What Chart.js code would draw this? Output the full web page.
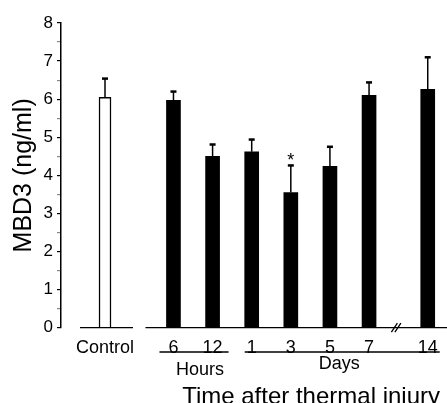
<!DOCTYPE html>
<html>
<head>
<meta charset="utf-8">
<script src="https://cdn.jsdelivr.net/npm/chart.js@4.4.1/dist/chart.umd.min.js"></script>
<style>
  html, body { margin: 0; padding: 0; background: #fff; }
</style>
</head>
<body>
<canvas id="myChart" width="447" height="403"></canvas>
<script>
// values
const categories = ['Control', '6', '12', '1', '3', '5', '7', '14'];
const meanValues = [6.05, 5.97, 4.50, 4.62, 3.55, 4.24, 6.10, 6.26];
const semValues = [0.49, 0.23, 0.31, 0.32, 0.71, 0.51, 0.34, 0.84];
const significant = [false, false, false, false, true, false, false, false];
const groups = [
    { text: 'Hours', from: 1, to: 2 },
    { text: 'Days', from: 3, to: 7 }
];

// layout: empty category slots between bars (control gap, axis break)
const slotGaps = [4, 7, 4, 4, 4, 4, 4, 6];
const totalSlots = 39;
const FONT = '"Liberation Sans", Arial, sans-serif';

const slots = [];
let pos = 0;
slotGaps.forEach(g => { pos += g; slots.push(pos); });

const labels = new Array(totalSlots).fill('');
const controlData = new Array(totalSlots).fill(null);
const injuryData = new Array(totalSlots).fill(null);
slots.forEach((s, i) => {
    labels[s] = categories[i];
    if (i === 0) controlData[s] = meanValues[i];
    else injuryData[s] = meanValues[i];
});

// error bars, split x axis, group labels and the axis title
const decor = {
    id: 'decor',
    afterDraw(chart) {
        const { ctx, scales: { x, y } } = chart;
        const base = y.getPixelForValue(0);
        const px = slots.map(s => x.getPixelForValue(s));
        ctx.save();
        ctx.strokeStyle = '#000';
        ctx.fillStyle = '#000';

        slots.forEach((s, i) => {
            const top = y.getPixelForValue(meanValues[i]);
            const errTop = y.getPixelForValue(meanValues[i] + semValues[i]);
            ctx.lineWidth = 1.5;
            ctx.beginPath();
            ctx.moveTo(px[i], top);
            ctx.lineTo(px[i], errTop);
            ctx.stroke();
            ctx.lineWidth = 2.5;
            ctx.beginPath();
            ctx.moveTo(px[i] - 3, errTop);
            ctx.lineTo(px[i] + 3, errTop);
            ctx.stroke();
            if (significant[i]) {
                ctx.font = '18px ' + FONT;
                ctx.textAlign = 'center';
                ctx.textBaseline = 'alphabetic';
                ctx.fillText('*', px[i], errTop + 1);
            }
        });

        // x axis pieces
        ctx.lineWidth = 1.3;
        ctx.beginPath();
        ctx.moveTo(px[0] - 25, base);
        ctx.lineTo(px[0] + 28, base);
        ctx.moveTo(px[1] - 28, base);
        ctx.lineTo(chart.width, base);
        ctx.stroke();
        const bx = (px[6] + px[7]) / 2 - 4;
        ctx.beginPath();
        [0, 3.5].forEach(d => {
            ctx.moveTo(bx + d - 3, base + 4.5);
            ctx.lineTo(bx + d + 3, base - 4.5);
        });
        ctx.stroke();

        // Hours / Days underlines
        const lineY = 352;
        const l0 = px[1] - 14, l1 = px[2] + 16;
        const d0 = px[3] - 7, d1 = px[7] + 12;
        ctx.beginPath();
        ctx.moveTo(l0, lineY); ctx.lineTo(l1, lineY);
        ctx.moveTo(d0, lineY); ctx.lineTo(d1, lineY);
        ctx.stroke();
        ctx.font = '18px ' + FONT;
        ctx.textAlign = 'center';
        ctx.textBaseline = 'alphabetic';
        ctx.fillText(groups[0].text, (l0 + l1) / 2 + 6, 375);
        ctx.fillText(groups[1].text, (d0 + d1) / 2 - 3, 369);

        ctx.font = '24px ' + FONT;
        ctx.textAlign = 'right';
        ctx.fillText('Time after thermal injury', 440, 404);
        ctx.restore();
    }
};

const ctx = document.getElementById('myChart').getContext('2d');
const myChart = new Chart(ctx, {
    type: 'bar',
    data: {
        labels: labels,
        datasets: [{
            data: controlData,
            backgroundColor: '#fff',
            borderColor: '#000',
            borderWidth: 1.5,
            borderSkipped: 'bottom',
            barThickness: 12
        }, {
            data: injuryData,
            backgroundColor: '#000',
            borderWidth: 0,
            barThickness: 14
        }]
    },
    options: {
        responsive: false,
        animation: false,
        devicePixelRatio: 1,
        layout: { padding: { left: 9, top: 23, right: 4.6, bottom: 0 } },
        datasets: { bar: { grouped: false } },
        plugins: {
            legend: { display: false },
            tooltip: { enabled: false }
        },
        scales: {
            x: {
                offset: true,
                grid: { display: false },
                border: { display: false },
                ticks: {
                    autoSkip: false,
                    maxRotation: 0,
                    padding: 2,
                    color: '#000',
                    font: { family: FONT, size: 18 }
                },
                afterFit(scale) { scale.height = 75.3; }
            },
            y: {
                min: 0,
                max: 8,
                ticks: {
                    stepSize: 0.5,
                    autoSkip: false,
                    padding: 4,
                    color: '#000',
                    font: { family: FONT, size: 17 },
                    callback: v => Number.isInteger(v) ? v : ''
                },
                grid: {
                    drawOnChartArea: false,
                    tickLength: 4,
                    lineWidth: 1.2,
                    tickColor: c => Number.isInteger(c.tick.value) ? '#000' : '#888'
                },
                border: { color: '#000', width: 1.5 },
                title: {
                    display: true,
                    text: 'MBD3 (ng/ml)',
                    color: '#000',
                    padding: 0,
                    font: { family: FONT, size: 25 }
                },
                afterFit(scale) { scale.width = 52; }
            }
        }
    },
    plugins: [decor]
});
</script>
</body>
</html>
